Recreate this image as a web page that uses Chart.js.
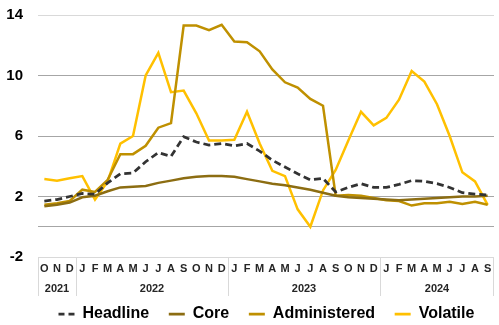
<!DOCTYPE html>
<html>
<head>
<meta charset="utf-8">
<script src="https://cdn.jsdelivr.net/npm/chart.js@4"></script>
<style>
html,body{margin:0;padding:0;background:#fff;}
#wrap{width:499px;height:325px;position:relative;}
</style>
</head>
<body>
<div id="wrap"><canvas id="c" width="499" height="325"></canvas></div>
<script>
const months = ['O','N','D','J','F','M','A','M','J','J','A','S','O','N','D','J','F','M','A','M','J','J','A','S','O','N','D','J','F','M','A','M','J','J','A','S'];
const years = [
  {label:'2021', from:0, to:2},
  {label:'2022', from:3, to:14},
  {label:'2023', from:15, to:26},
  {label:'2024', from:27, to:35}
];
const yTicks = [-2, 2, 6, 10, 14];

const headline = [1.7,1.8,2.0,2.2,2.15,2.9,3.5,3.55,4.3,4.9,4.65,5.95,5.6,5.4,5.5,5.35,5.5,5.0,4.4,3.95,3.5,3.1,3.2,2.3,2.6,2.85,2.6,2.6,2.8,3.05,3.0,2.85,2.6,2.25,2.15,2.1];
const core = [1.35,1.45,1.6,1.95,2.05,2.35,2.6,2.65,2.7,2.9,3.05,3.2,3.3,3.35,3.35,3.3,3.15,3.0,2.85,2.75,2.6,2.45,2.25,2.05,1.95,1.9,1.85,1.8,1.75,1.8,1.85,1.9,1.95,2.0,2.0,2.05];
const administered = [1.45,1.55,1.7,2.45,2.3,3.1,4.8,4.8,5.35,6.55,6.85,13.3,13.3,13.0,13.35,12.25,12.2,11.6,10.4,9.55,9.2,8.45,8.0,2.05,2.1,2.05,1.9,1.75,1.7,1.4,1.55,1.55,1.65,1.5,1.65,1.45];
const volatile = [3.15,3.05,3.2,3.35,1.8,3.0,5.5,6.0,10.0,11.5,8.9,9.0,7.5,5.7,5.7,5.75,7.6,5.5,3.7,3.35,1.15,0.0,2.4,3.75,5.7,7.6,6.7,7.2,8.4,10.3,9.6,8.1,6.0,3.6,3.0,1.45];

const yearPlugin = {
  id: 'yearRow',
  afterDraw(chart) {
    const x = chart.scales.x;
    const ctx = chart.ctx;
    const half = (x.getPixelForValue(1) - x.getPixelForValue(0)) / 2;
    const top = chart.chartArea.bottom;
    const bottom = top + 39;
    ctx.save();
    ctx.strokeStyle = '#d9d9d9';
    ctx.lineWidth = 1;
    ctx.beginPath();
    ctx.moveTo(chart.chartArea.left, top + 0.5);
    ctx.lineTo(chart.chartArea.right, top + 0.5);
    ctx.stroke();
    ctx.fillStyle = '#262626';
    ctx.font = 'bold 11px "Liberation Sans", Arial, sans-serif';
    ctx.textAlign = 'center';
    ctx.textBaseline = 'middle';
    years.forEach((yr, i) => {
      const l = x.getPixelForValue(yr.from) - half;
      const r = x.getPixelForValue(yr.to) + half;
      ctx.fillText(yr.label, (l + r) / 2, top + 32);
      ctx.beginPath();
      ctx.moveTo(Math.round(l) + 0.5, top);
      ctx.lineTo(Math.round(l) + 0.5, bottom);
      if (i === years.length - 1) {
        ctx.moveTo(Math.round(r) - 0.5, top);
        ctx.lineTo(Math.round(r) - 0.5, bottom);
      }
      ctx.stroke();
    });
    ctx.restore();
  }
};

new Chart(document.getElementById('c'), {
  type: 'line',
  data: {
    labels: months,
    datasets: [
      {label:'Headline', data: headline, borderColor:'#333333', backgroundColor:'#333333', borderDash:[7,4], borderWidth:2.75},
      {label:'Core', data: core, borderColor:'#8c6d12', backgroundColor:'#8c6d12', borderWidth:2.5},
      {label:'Administered', data: administered, borderColor:'#bf9000', backgroundColor:'#bf9000', borderWidth:2.5},
      {label:'Volatile', data: volatile, borderColor:'#ffc000', backgroundColor:'#ffc000', borderWidth:2.5}
    ]
  },
  options: {
    responsive: false,
    animation: false,
    devicePixelRatio: 1,
    layout: {padding: {left: 0, right: 5, top: 15, bottom: -7}},
    elements: {point: {radius: 0}, line: {tension: 0}},
    plugins: {
      legend: {
        position: 'bottom',
        align: 'end',
        labels: {
          usePointStyle: true, pointStyle: 'line', pointStyleWidth: 16,
          padding: 19.6,
          color: '#000',
          font: {family: '"Liberation Sans", Arial, sans-serif', size: 16, weight: 'bold', lineHeight: 1},
          generateLabels(chart) {
            return chart.data.datasets.map((d, i) => ({
              text: d.label, fillStyle: d.borderColor, strokeStyle: d.borderColor,
              lineWidth: 2.75, lineDash: i === 0 ? [6, 4] : [], pointStyle: 'line',
              datasetIndex: i, hidden: false
            }));
          }
        }
      },
      tooltip: {enabled: false}
    },
    scales: {
      x: {
        type: 'category',
        offset: true,
        grid: {display: false, drawTicks: false},
        border: {display: false},
        ticks: {
          autoSkip: false, maxRotation: 0, padding: 5,
          color: '#262626',
          font: {family: '"Liberation Sans", Arial, sans-serif', size: 11, weight: 'bold'}
        },
        afterFit(s) { s.height = 29.4; }
      },
      y: {
        min: -2, max: 14,
        afterBuildTicks(s) { s.ticks = [-2, 0, 2, 6, 10, 14].map(v => ({value: v})); },
        grid: {
          drawTicks: true, tickLength: 15, tickColor: 'rgba(0,0,0,0)',
          color(ctx) {
            const v = ctx.tick && ctx.tick.value;
            if (v === 14) return '#d9d9d9';
            if (v === -2) return 'rgba(0,0,0,0)';
            return '#a6a6a6';
          }
        },
        border: {display: false},
        ticks: {
          padding: 0,
          color: '#000',
          font: {family: '"Liberation Sans", Arial, sans-serif', size: 15, weight: 'bold'},
          callback(v) { return yTicks.includes(v) ? String(v) : ''; }
        },
        afterFit(s) { s.width = 38; }
      }
    }
  },
  plugins: [yearPlugin]
});
</script>
</body>
</html>
